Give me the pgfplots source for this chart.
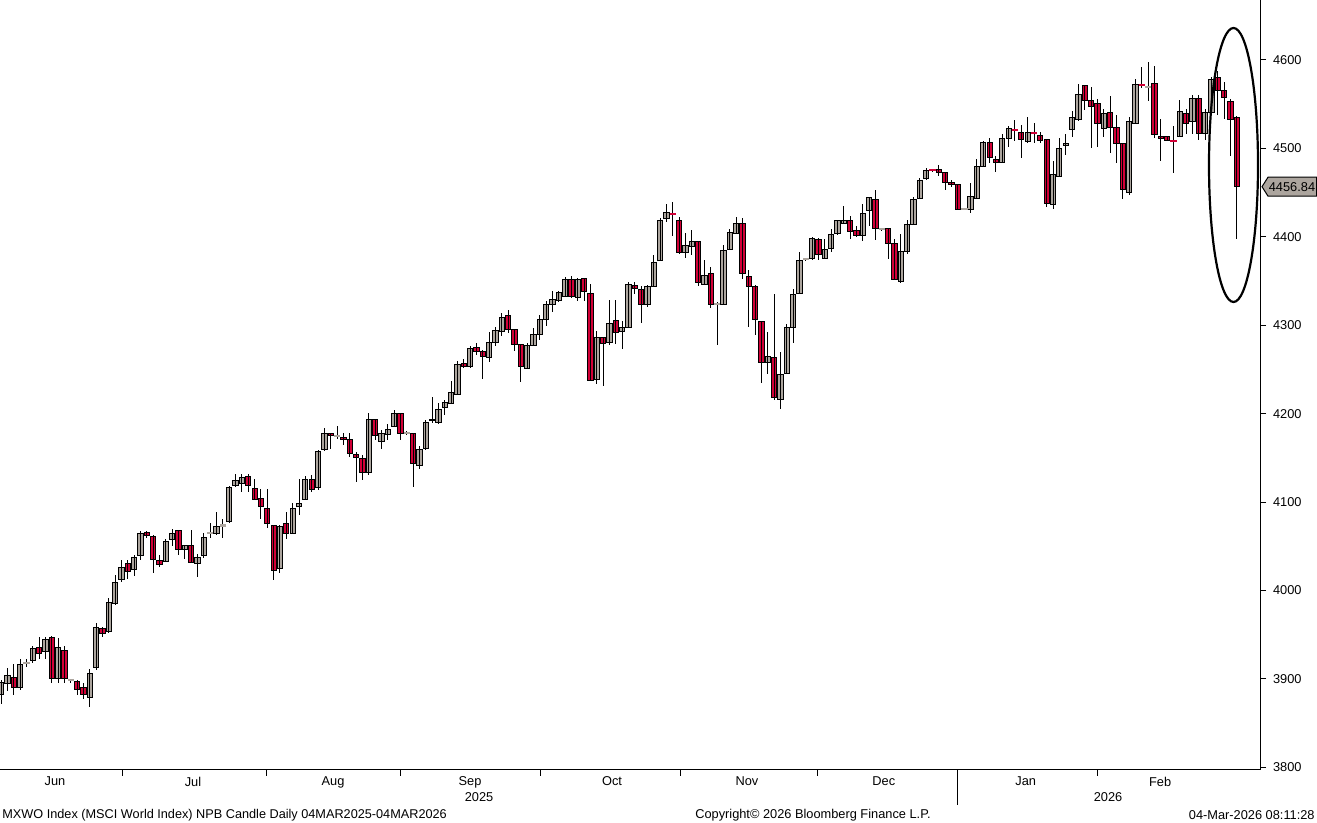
\documentclass[border=0pt]{standalone}
\usepackage{fontspec}
\setmainfont{Liberation Sans}
\usepackage{pgfplots}
\usepackage{pgfplotstable}
\pgfplotsset{compat=1.18}
\definecolor{cgrey}{RGB}{172,165,158}
\definecolor{cred}{RGB}{210,0,55}
\pgfplotstableread{
k o h l c
0 3883 3899 3872 3896
1 3895 3913 3886 3904
2 3902 3917 3882 3890
3 3890 3923 3887 3916
4 3918 3923 3914 3919
5 3921 3937 3918 3935
6 3936 3948 3923 3929
7 3931 3948 3923 3945
8 3947 3949 3896 3901
9 3901 3946 3896 3936
10 3932 3937 3896 3901
11 3898 3900 3896 3899
12 3897 3899 3882 3888
13 3890 3895 3877 3882
14 3879 3911 3868 3906
15 3913 3963 3910 3958
16 3957 3959 3948 3951
17 3954 3992 3952 3986
18 3985 4018 3984 4009
19 4012 4035 4010 4026
20 4031 4035 4013 4022
21 4024 4040 4017 4037
22 4040 4067 4035 4064
23 4066 4067 4060 4062
24 4061 4063 4020 4035
25 4034 4040 4027 4030
26 4033 4058 4032 4056
27 4058 4070 4050 4065
28 4068 4069 4040 4047
29 4046 4052 4036 4051
30 4051 4069 4031 4032
31 4031 4041 4015 4037
32 4040 4065 4037 4060
33 4065 4076 4060 4066
34 4065 4089 4063 4073
35 4073 4081 4059 4074
36 4078 4118 4077 4116
37 4119 4132 4117 4125
38 4121 4132 4112 4128
39 4129 4132 4111 4119
40 4115 4126 4102 4103
41 4104 4115 4081 4095
42 4093 4115 4071 4076
43 4074 4074 4012 4023
44 4025 4074 4020 4073
45 4076 4089 4058 4064
46 4065 4099 4065 4093
47 4095 4126 4086 4099
48 4103 4130 4102 4126
49 4126 4131 4111 4114
50 4116 4159 4114 4157
51 4160 4184 4158 4178
52 4178 4178 4160 4175
53 4174 4186 4171 4175
54 4173 4178 4165 4171
55 4171 4178 4151 4155
56 4154 4157 4123 4150
57 4149 4153 4125 4133
58 4133 4201 4131 4193
59 4194 4194 4170 4175
60 4169 4182 4160 4178
61 4177 4188 4170 4182
62 4185 4204 4185 4200
63 4200 4200 4170 4178
64 4178 4181 4176 4179
65 4178 4178 4117 4144
66 4141 4163 4138 4159
67 4161 4193 4159 4190
68 4194 4219 4190 4192
69 4190 4212 4188 4205
70 4207 4216 4199 4213
71 4211 4237 4211 4224
72 4222 4260 4222 4256
73 4257 4262 4252 4253
74 4253 4276 4252 4274
75 4275 4280 4266 4270
76 4270 4272 4239 4265
77 4263 4292 4259 4280
78 4281 4298 4276 4294
79 4293 4314 4288 4309
80 4311 4317 4291 4295
81 4295 4295 4271 4278
82 4278 4278 4236 4253
83 4251 4280 4251 4277
84 4277 4297 4277 4289
85 4289 4312 4283 4307
86 4306 4327 4299 4323
87 4323 4339 4315 4329
88 4328 4339 4327 4337
89 4333 4355 4332 4352
90 4352 4356 4331 4332
91 4331 4353 4327 4352
92 4353 4353 4328 4338
93 4336 4347 4237 4238
94 4239 4294 4234 4286
95 4286 4287 4231 4279
96 4280 4329 4278 4302
97 4305 4329 4279 4292
98 4293 4305 4273 4297
99 4297 4349 4297 4346
100 4345 4349 4335 4342
101 4341 4344 4303 4324
102 4323 4346 4321 4344
103 4344 4380 4344 4371
104 4373 4421 4373 4418
105 4421 4437 4417 4427
106 4426 4439 4401 4425
107 4418 4422 4381 4382
108 4382 4404 4376 4390
109 4389 4408 4380 4395
110 4395 4395 4344 4348
111 4346 4374 4346 4356
112 4359 4366 4319 4324
113 4324 4326 4278 4325
114 4324 4391 4324 4385
115 4386 4409 4386 4405
116 4404 4422 4404 4415
117 4415 4421 4352 4358
118 4355 4362 4298 4344
119 4344 4346 4289 4306
120 4304 4304 4235 4258
121 4258 4292 4245 4265
122 4263 4335 4215 4218
123 4216 4270 4205 4244
124 4245 4301 4245 4297
125 4297 4341 4280 4335
126 4336 4383 4336 4373
127 4374 4376 4373 4375
128 4376 4400 4374 4398
129 4397 4399 4374 4380
130 4376 4397 4376 4386
131 4387 4409 4383 4403
132 4404 4418 4402 4418
133 4415 4435 4415 4418
134 4418 4424 4398 4406
135 4407 4412 4400 4401
136 4401 4437 4395 4426
137 4430 4445 4412 4445
138 4442 4453 4396 4409
139 4408 4410 4407 4409
140 4409 4409 4375 4393
141 4392 4397 4352 4352
142 4350 4403 4348 4383
143 4383 4419 4381 4414
144 4414 4445 4414 4442
145 4443 4466 4443 4464
146 4466 4478 4464 4475
147 4476 4476 4474 4475
148 4476 4481 4469 4473
149 4473 4473 4453 4462
150 4462 4464 4456 4459
151 4459 4459 4431 4431
152 4431 4432 4430 4432
153 4431 4461 4427 4446
154 4443 4488 4443 4479
155 4479 4508 4479 4507
156 4507 4512 4483 4490
157 4488 4491 4473 4484
158 4484 4516 4484 4511
159 4511 4525 4502 4523
160 4521 4532 4508 4520
161 4518 4527 4489 4510
162 4508 4536 4506 4518
163 4518 4529 4506 4517
164 4515 4518 4506 4509
165 4510 4510 4434 4438
166 4437 4486 4431 4470
167 4468 4512 4468 4500
168 4503 4516 4493 4506
169 4521 4542 4513 4535
170 4533 4573 4531 4561
171 4571 4571 4543 4554
172 4554 4569 4501 4547
173 4551 4556 4502 4528
174 4522 4545 4513 4539
175 4541 4559 4495 4524
176 4524 4538 4483 4506
177 4505 4505 4443 4453
178 4450 4535 4447 4530
179 4528 4579 4528 4572
180 4572 4592 4568 4571
181 4569 4598 4554 4570
182 4573 4593 4512 4516
183 4514 4533 4486 4511
184 4513 4513 4508 4509
185 4509 4525 4472 4508
186 4514 4555 4514 4542
187 4539 4544 4516 4528
188 4530 4560 4516 4556
189 4556 4560 4509 4517
190 4517 4545 4510 4541
191 4541 4581 4541 4578
192 4580 4587 4538 4566
193 4566 4575 4533 4557
194 4553 4556 4491 4533
195 4535 4537 4398 4456.84
}\candles
\pgfplotstableread{
k c
4 3918.5
11 3898.6
33 4065.5
35 4073.5
53 4174.5
64 4178.5
113 4324.5
127 4374.6
139 4408.6
152 4431.5
181 4569.5
}\dojigrey
\pgfplotstableread{
k c
106 4425.5
147 4475.3
160 4520.5
163 4517.5
180 4571.5
185 4508.5
}\dojired
\begin{document}
\begin{tikzpicture}
\useasboundingbox (0,0) rectangle (658.5pt,411.5pt);
\begin{axis}[
  at={(0pt,26.5pt)}, anchor=south west,
  scale only axis, width=630pt, height=385pt,
  xmin=-0.19, xmax=198.67, ymin=3797.1, ymax=4667.85,
  ybar stacked, bar width=2.65pt,
  axis x line=bottom, axis y line=right,
  axis line style={-, line width=0.5pt},
  tick align=outside, major tick length=3pt,
  tick style={black, line width=0.5pt},
  xtick={19.07,41.8,62.94,85.04,107.13,128.9,150.85,172.95},
  xticklabels={},
  extra x ticks={8.49,30.27,52.37,73.99,96.4,117.7,139.3,161.7,182.9},
  extra x tick labels={Jun,Jul,Aug,Sep,Oct,Nov,Dec,Jan,Feb},
  extra x tick style={major tick length=0pt},
  ytick={3800,3900,...,4600},
  tick label style={font=\fontsize{6.4}{7.5}\selectfont},
  /pgf/number format/assume math mode=true,
  /pgf/number format/1000 sep={},
]
\addplot[draw=none, fill=none, forget plot,
  error bars/.cd, y dir=both, y explicit, error mark=none,
  error bar style={draw=black, line width=0.5pt}]
  table[x=k, y expr={min(\thisrow{o},\thisrow{c})},
        y error plus expr={\thisrow{h}-min(\thisrow{o},\thisrow{c})},
        y error minus expr={min(\thisrow{o},\thisrow{c})-\thisrow{l}}] {\candles};
\addplot[fill=cgrey, draw=black, line width=0.5pt]
  table[x=k, y expr={(\thisrow{c}>\thisrow{o}) ? (\thisrow{c}-\thisrow{o}) : 0}] {\candles};
\addplot[fill=cred, draw=black, line width=0.5pt]
  table[x=k, y expr={(\thisrow{c}>\thisrow{o}) ? 0 : (\thisrow{o}-\thisrow{c})}] {\candles};
\addplot[stack plots=false, only marks, mark=-, mark size=1.6pt,
  mark options={draw=cgrey, line width=1.1pt}] table[x=k, y=c] {\dojigrey};
\addplot[stack plots=false, only marks, mark=-, mark size=1.6pt,
  mark options={draw=cred, line width=1.1pt}] table[x=k, y=c] {\dojired};
\end{axis}
\draw[line width=1.1pt] (616.75pt,329pt) ellipse [x radius=12.25pt, y radius=68.5pt];
\draw[fill=cgrey, line width=0.5pt] (631pt,318.15pt) -- (634pt,322.9pt) -- (658.3pt,322.9pt) -- (658.3pt,313.4pt) -- (634pt,313.4pt) -- cycle;
\node[font=\fontsize{6.4}{7.5}\selectfont, inner sep=0pt] at (646pt,318.15pt) {4456.84};
\draw[line width=0.5pt] (478.5pt,26.5pt) -- (478.5pt,9pt);
\node[font=\fontsize{6.4}{7.5}\selectfont] at (239.5pt,13pt) {2025};
\node[font=\fontsize{6.4}{7.5}\selectfont] at (554pt,13pt) {2026};
\node[anchor=west, font=\fontsize{6.35}{7}\selectfont, inner sep=0pt] at (1pt,4pt) {MXWO Index (MSCI World Index) NPB Candle Daily 04MAR2025-04MAR2026};
\node[font=\fontsize{6.4}{7}\selectfont, inner sep=0pt] at (406.5pt,4pt) {Copyright© 2026 Bloomberg Finance L.P.};
\node[anchor=east, font=\fontsize{6.4}{7}\selectfont, inner sep=0pt] at (657.5pt,4pt) {04-Mar-2026 08:11:28};
\end{tikzpicture}
\end{document}
